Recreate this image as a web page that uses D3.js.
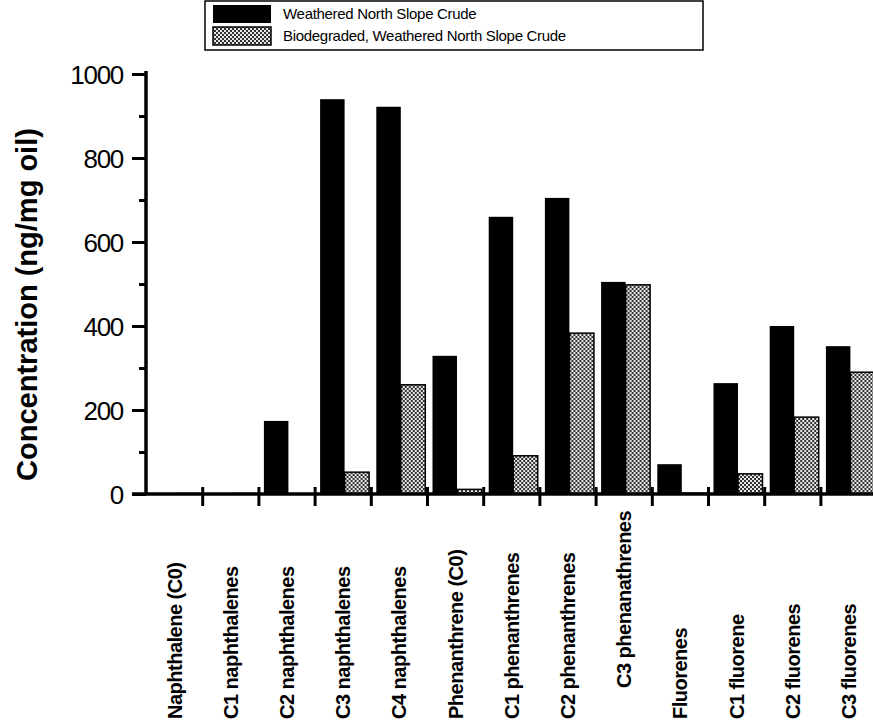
<!DOCTYPE html>
<html>
<head>
<meta charset="utf-8">
<script src="https://cdnjs.cloudflare.com/ajax/libs/d3/7.8.5/d3.min.js"></script>
<style>
  html, body { margin: 0; padding: 0; background: #fff; }
  svg { display: block; }
</style>
</head>
<body>
<svg id="chart" width="873" height="727"></svg>
<script>
// PAH concentrations in weathered vs. biodegraded North Slope crude (ng/mg oil)
const categories = [
  "Naphthalene (C0)", "C1 naphthalenes", "C2 naphthalenes", "C3 naphthalenes",
  "C4 naphthalenes", "Phenanthrene (C0)", "C1 phenanthrenes", "C2 phenanthrenes",
  "C3 phenanathrenes", "Fluorenes", "C1 fluorene", "C2 fluorenes", "C3 fluorenes"
];
const seriesNames = ["Weathered North Slope Crude", "Biodegraded, Weathered North Slope Crude"];
const weathered   = [1, 1, 174, 940, 922, 329, 660, 705, 505, 71, 264, 400, 352];
const biodegraded = [1, 1, 0, 52, 260, 11, 91, 383, 498, 2, 48, 183, 290];
const yTicks = [0, 200, 400, 600, 800, 1000];
const yMinorTicks = [100, 300, 500, 700, 900];

const svg = d3.select("#chart");
const x0 = 146, y0 = 494, yTop = 74, catW = 56.2;
const FONT = "'Liberation Sans', Arial, Helvetica, sans-serif";

const x = d3.scaleBand().domain(categories).range([x0, x0 + catW * categories.length]).padding(0);
const xs = d3.scaleBand().domain(seriesNames).range([5.5, 54.5]).padding(0);
const xIdx = d3.scaleLinear().domain([0, categories.length]).range([x0, x0 + catW * categories.length]);
const y = d3.scaleLinear().domain([0, 1000]).range([y0, yTop]);

// Checkered fill for the biodegraded series
const defs = svg.append("defs");
const pat = defs.append("pattern").attr("id", "checker")
  .attr("patternUnits", "userSpaceOnUse").attr("width", 4).attr("height", 4);
pat.append("rect").attr("width", 4).attr("height", 4).attr("fill", "#e6e6e6");
pat.append("rect").attr("x", 0).attr("y", 0).attr("width", 2).attr("height", 2).attr("fill", "#333");
pat.append("rect").attr("x", 2).attr("y", 2).attr("width", 2).attr("height", 2).attr("fill", "#333");

const fills = ["#000", "url(#checker)"];
const rows = categories.map((c, i) => ({ cat: c, vals: [weathered[i], biodegraded[i]] }));

// Bars
const groups = svg.append("g").selectAll("g").data(rows).join("g")
  .attr("transform", d => `translate(${x(d.cat)},0)`);
groups.selectAll("rect").data(d => d.vals.map((v, k) => ({ v, k }))).join("rect")
  .attr("x", d => xs(seriesNames[d.k]))
  .attr("width", xs.bandwidth())
  .attr("y", d => y(d.v))
  .attr("height", d => y0 - y(d.v))
  .attr("fill", d => fills[d.k])
  .attr("stroke", "#000")
  .attr("stroke-width", d => d.k === 1 ? 1.5 : 0);

// Y axis with major and minor ticks
const yAxis = svg.append("g").attr("transform", `translate(${x0},0)`)
  .call(d3.axisLeft(y).tickValues(yTicks).tickSize(14).tickSizeOuter(0).tickPadding(9)
    .tickFormat(d3.format("d")));
yAxis.select(".domain").remove();
yAxis.selectAll(".tick line").style("stroke-width", "3px");
yAxis.selectAll(".tick text")
  .attr("font-family", FONT)
  .attr("font-size", 26).attr("fill", "#000").attr("letter-spacing", -1.3).attr("dy", "0.36em");
const yMinor = svg.append("g").attr("transform", `translate(${x0},0)`)
  .call(d3.axisLeft(y).tickValues(yMinorTicks).tickSize(7).tickFormat(""));
yMinor.select(".domain").remove();
yMinor.selectAll(".tick line").style("stroke-width", "3px");
// vertical axis line
svg.append("line").attr("x1", x0).attr("x2", x0).attr("y1", y(1000) - 3).attr("y2", y0)
  .style("stroke", "#000").style("stroke-width", "3.5px");

// X axis: baseline and category separator ticks
svg.append("line").attr("x1", x0 - 14).attr("x2", 873).attr("y1", y0).attr("y2", y0)
  .style("stroke", "#000").style("stroke-width", "3.5px");
const xAxis = svg.append("g").attr("transform", `translate(0,${y0})`)
  .call(d3.axisBottom(xIdx).tickValues(d3.range(1, categories.length + 1)).tickSize(12).tickFormat(""));
xAxis.select(".domain").remove();
xAxis.selectAll(".tick line").attr("y1", -7).style("stroke-width", "3px");

// Category labels, rotated
svg.append("g").selectAll("text").data(categories).join("text")
  .attr("transform", d => {
    const cx = x(d) + x.bandwidth() / 2 + 7.5;
    const by = d === "C3 phenanathrenes" ? 688 : 719;
    return `translate(${cx},${by}) rotate(-90)`;
  })
  .attr("font-family", FONT)
  .attr("font-weight", "bold").attr("font-size", 20).attr("letter-spacing", -0.5)
  .attr("fill", "#000")
  .text(d => d);

// Y axis title
svg.append("text")
  .attr("transform", `translate(37,${(122 + 487) / 2}) rotate(-90)`)
  .attr("text-anchor", "middle")
  .attr("font-family", FONT)
  .attr("font-weight", "bold").attr("font-size", 29).attr("letter-spacing", 0)
  .attr("fill", "#000")
  .text("Concentration (ng/mg oil)");

// Legend
const lg = svg.append("g");
lg.append("rect").attr("x", 205).attr("y", 1).attr("width", 498).attr("height", 49)
  .attr("fill", "#fff").attr("stroke", "#000").attr("stroke-width", 1.5);
seriesNames.forEach((s, k) => {
  const yy = 5 + k * 22;
  lg.append("rect").attr("x", 213).attr("y", yy).attr("width", 58).attr("height", 18)
    .attr("fill", fills[k]).attr("stroke", "#000").attr("stroke-width", k === 1 ? 1.5 : 0);
  lg.append("text").attr("x", 283).attr("y", yy + 14)
    .attr("font-family", FONT)
    .attr("font-size", 15).attr("letter-spacing", -0.3).attr("fill", "#000")
    .text(s);
});
</script>
</body>
</html>
